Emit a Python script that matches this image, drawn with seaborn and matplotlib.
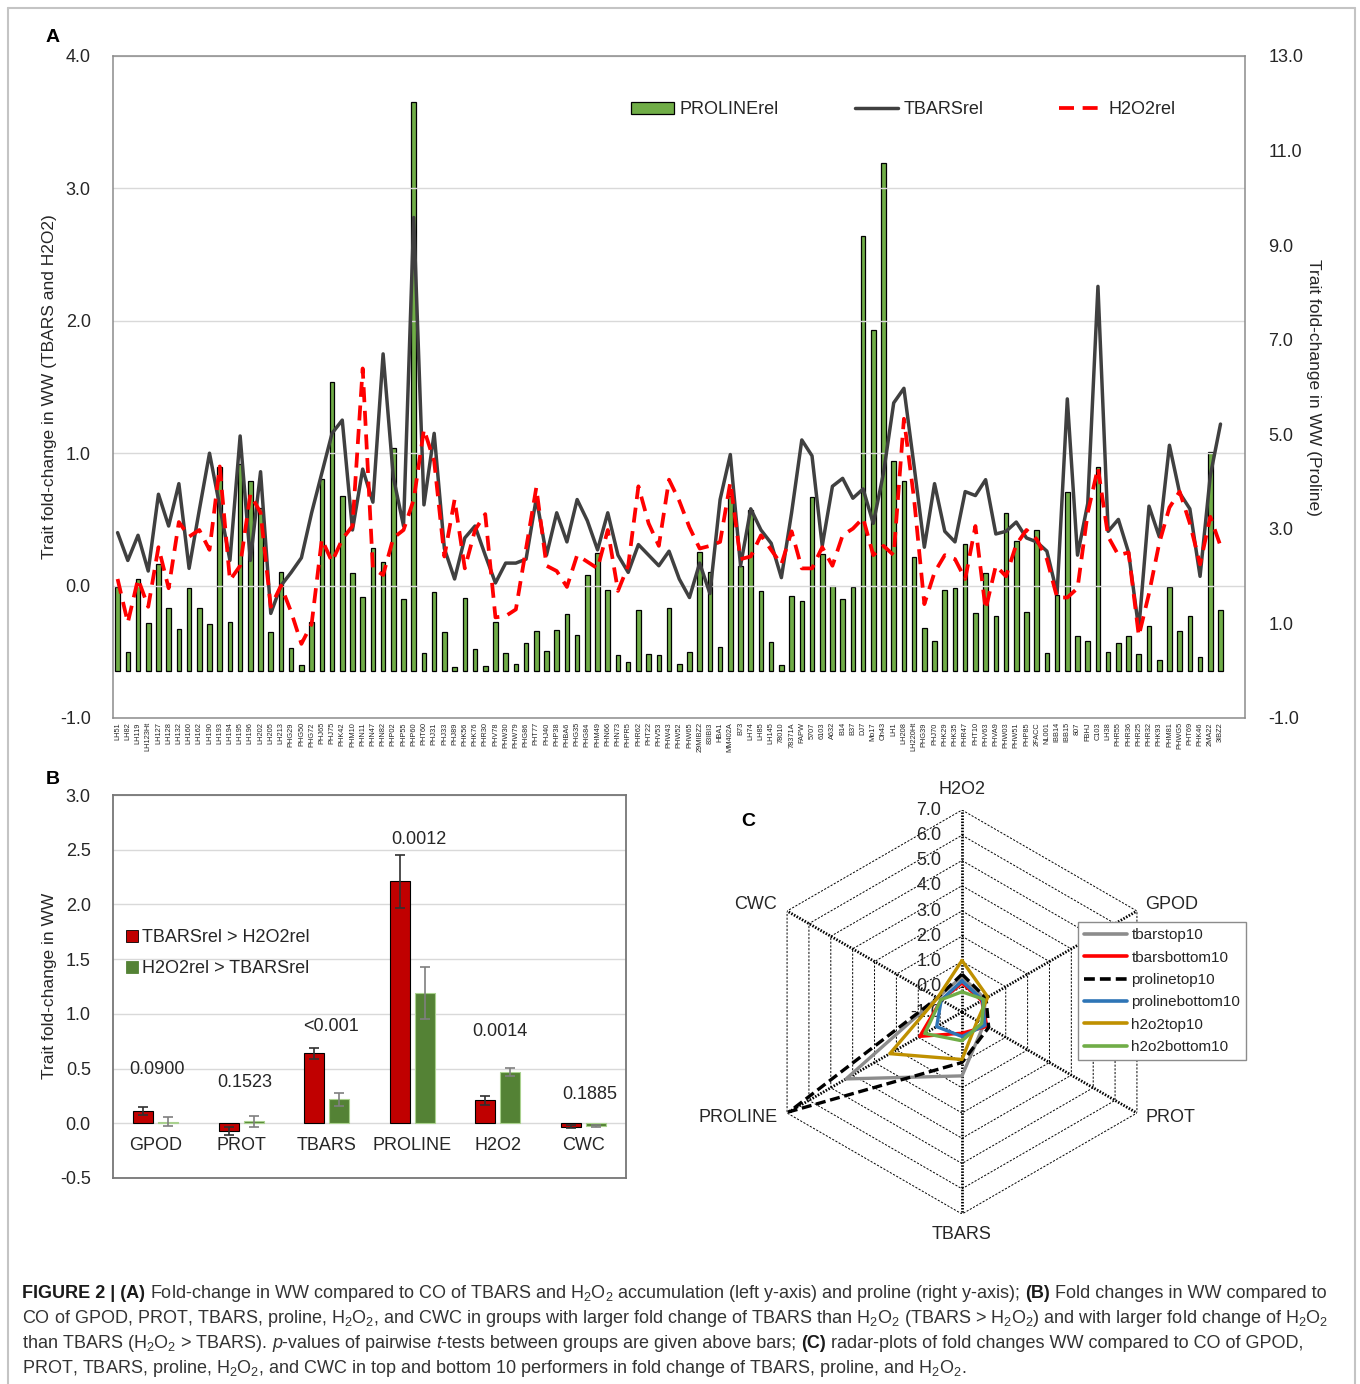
import numpy as np
import pandas as pd
import matplotlib
matplotlib.use("Agg")
import matplotlib.pyplot as plt
import seaborn as sns
from matplotlib.lines import Line2D
from matplotlib.patches import Patch
from matplotlib.ticker import FormatStrFormatter

# ---------------- data ----------------
genotypes = ["LH51", "LH82", "LH119", "LH123Ht", "LH127", "LH128", "LH132", "LH160", "LH162", "LH190",
             "LH193", "LH194", "LH195", "LH196", "LH202", "LH205", "LH213", "PHG29", "PHG50", "PHG72",
             "PHJ65", "PHJ75", "PHK42", "PHM10", "PHN11", "PHN47", "PHN82", "PHP02", "PHP55", "PHP60",
             "PHT60", "PHJ31", "PHJ33", "PHJ89", "PHK56", "PHK76", "PHR30", "PHV78", "PHW30", "PHW79",
             "PHG86", "PHT77", "PHJ40", "PHP38", "PHBA6", "PHG35", "PHG84", "PHM49", "PHN66", "PHN73",
             "PHPR5", "PHR62", "PHT22", "PHV53", "PHW43", "PHW52", "PHW65", "29MIBZ2", "83IBI3", "HBA1",
             "MM402A", "B73", "LH74", "LH85", "LH145", "78010", "78371A", "FAPW", "5707", "6103",
             "A632", "B14", "B37", "DJ7", "Mo17", "Oh43", "LH1", "LH208", "LH220Ht", "PHG39",
             "PHJ70", "PHK29", "PHK35", "PHR47", "PHT10", "PHV63", "PHVA9", "PHW03", "PHW51", "PHP85",
             "2FACC", "NL001", "IBB14", "IBB15", "807", "FBHJ", "C103", "LH38", "PHR55", "PHR36",
             "PHR25", "PHR32", "PHK93", "PHM81", "PHWG5", "PHT69", "PHK46", "2MA22", "3IBZ2"]

proline_rel = [1.76, 0.39, 1.94, 1.01, 2.26, 1.32, 0.89, 1.75, 1.32, 0.99,
               4.31, 1.02, 4.37, 4.02, 3.44, 0.81, 2.08, 0.49, 0.13, 1.03,
               4.05, 6.10, 3.70, 2.06, 1.56, 2.59, 2.30, 4.72, 1.51, 12.03,
               0.37, 1.66, 0.82, 0.08, 1.54, 0.45, 0.10, 1.02, 0.37, 0.15,
               0.58, 0.84, 0.41, 0.86, 1.20, 0.75, 2.03, 2.50, 1.71, 0.34,
               0.18, 1.28, 0.36, 0.34, 1.32, 0.14, 0.39, 2.52, 2.09, 0.50,
               3.69, 2.21, 3.40, 1.69, 0.60, 0.13, 1.57, 1.48, 3.68, 2.47,
               1.79, 1.52, 1.76, 9.20, 7.21, 10.74, 4.44, 4.02, 2.41, 0.90,
               0.62, 1.70, 1.75, 2.67, 1.22, 2.07, 1.16, 3.34, 2.74, 1.25,
               2.97, 0.37, 1.60, 3.79, 0.73, 0.63, 4.30, 0.39, 0.58, 0.74,
               0.35, 0.95, 0.23, 1.78, 0.85, 1.15, 0.29, 4.62, 1.29]

tbars_rel = [0.40, 0.19, 0.38, 0.11, 0.69, 0.45, 0.77, 0.13, 0.57, 1.00,
             0.60, 0.19, 1.13, 0.19, 0.86, -0.21, 0.00, 0.10, 0.21, 0.55,
             0.85, 1.15, 1.25, 0.42, 0.88, 0.63, 1.75, 0.82, 0.45, 2.78,
             0.61, 1.15, 0.28, 0.05, 0.36, 0.45, 0.23, 0.02, 0.17, 0.17,
             0.20, 0.66, 0.23, 0.55, 0.33, 0.65, 0.49, 0.27, 0.55, 0.23,
             0.10, 0.31, 0.23, 0.15, 0.26, 0.05, -0.09, 0.17, -0.06, 0.65,
             0.99, 0.15, 0.58, 0.42, 0.32, 0.06, 0.55, 1.10, 0.98, 0.30,
             0.75, 0.81, 0.66, 0.73, 0.47, 0.85, 1.38, 1.49, 0.90, 0.29,
             0.77, 0.41, 0.33, 0.71, 0.68, 0.80, 0.39, 0.41, 0.48, 0.36,
             0.33, 0.26, -0.06, 1.41, 0.23, 0.62, 2.26, 0.41, 0.50, 0.25,
             -0.33, 0.60, 0.37, 1.06, 0.70, 0.58, 0.07, 0.83, 1.22]

h2o2_rel = [0.05, -0.28, 0.05, -0.16, 0.29, -0.02, 0.48, 0.37, 0.42, 0.27,
            0.90, 0.04, 0.15, 0.69, 0.55, -0.16, 0.00, -0.20, -0.44, -0.29,
            0.35, 0.18, 0.35, 0.45, 1.64, 0.13, 0.08, 0.36, 0.42, 0.65,
            1.18, 0.94, 0.22, 0.65, 0.13, 0.42, 0.54, -0.24, -0.23, -0.18,
            0.28, 0.74, 0.15, 0.11, -0.01, 0.23, 0.18, 0.13, 0.42, -0.04,
            0.15, 0.75, 0.47, 0.30, 0.80, 0.64, 0.44, 0.28, 0.30, 0.33,
            0.78, 0.20, 0.22, 0.38, 0.27, 0.16, 0.41, 0.13, 0.13, 0.29,
            0.15, 0.38, 0.43, 0.51, 0.23, 0.30, 0.23, 1.26, 0.65, -0.14,
            0.10, 0.23, 0.20, 0.05, 0.45, -0.18, 0.15, 0.07, 0.31, 0.42,
            0.35, 0.20, -0.09, -0.09, -0.02, 0.55, 0.89, 0.37, 0.23, 0.25,
            -0.38, -0.06, 0.32, 0.59, 0.71, 0.47, 0.16, 0.52, 0.30]

traits_b = ["GPOD", "PROT", "TBARS", "PROLINE", "H2O2", "CWC"]
groups_b = ["TBARSrel > H2O2rel", "H2O2rel > TBARSrel"]
tbars_gt_mean = [0.11, -0.07, 0.64, 2.21, 0.21, -0.03]
tbars_gt_err = [0.035, 0.04, 0.05, 0.24, 0.04, 0.01]
h2o2_gt_mean = [0.015, 0.02, 0.22, 1.19, 0.47, -0.025]
h2o2_gt_err = [0.04, 0.05, 0.06, 0.24, 0.035, 0.01]
pvalues = ["0.0900", "0.1523", "<0.001", "0.0012", "0.0014", "0.1885"]

radar_traits = ["H2O2", "GPOD", "PROT", "TBARS", "PROLINE", "CWC"]
radar_names = ["tbarstop10", "tbarsbottom10", "prolinetop10", "prolinebottom10", "h2o2top10", "h2o2bottom10"]
tbarstop10 = [0.40, 0.05, 0.00, 1.53, 4.30, 0.12]
tbarsbottom10 = [0.15, -0.10, 0.14, -0.16, 0.93, -0.05]
prolinetop10 = [0.50, 0.10, 0.22, 1.00, 6.90, 0.12]
prolinebottom10 = [0.23, -0.06, 0.05, -0.03, 0.16, -0.05]
h2o2top10 = [1.04, 0.18, -0.30, 0.88, 2.30, 0.12]
h2o2bottom10 = [-0.20, 0.00, -0.10, 0.14, 0.70, -0.03]

# ---------------- style ----------------
sns.set_theme(style="white")
plt.rcParams["font.family"] = ["Liberation Sans", "DejaVu Sans"]
plt.rcParams["mathtext.fontset"] = "custom"
plt.rcParams["mathtext.rm"] = "Liberation Sans"
plt.rcParams["mathtext.it"] = "Liberation Sans:italic"
plt.rcParams["mathtext.bf"] = "Liberation Sans:bold"

W, H = 1360, 1384
fig = plt.figure(figsize=(W / 100, H / 100), dpi=100)
fig.patch.set_facecolor("white")


def fx(px):
    return px / W


def fy(py):
    return 1 - py / H


TXT = "#262626"
FRAME = "#8c8c8c"

# ---------------- panel A ----------------
axA = fig.add_axes([fx(113), fy(718), (1245 - 113) / W, (718 - 56) / H])
axA2 = axA.twinx()
n = len(genotypes)
dfA = pd.DataFrame({"genotype": genotypes, "pos": np.arange(n), "proline": proline_rel,
                    "tbars": tbars_rel, "h2o2": h2o2_rel})
sns.barplot(data=dfA, x="genotype", y="proline", order=genotypes, ax=axA2, color="#70AD47",
            saturation=1, width=0.45, edgecolor="black", linewidth=0.9)
sns.lineplot(data=dfA, x="pos", y="tbars", ax=axA, color="#404040", lw=2.5, sort=False)
sns.lineplot(data=dfA, x="pos", y="h2o2", ax=axA, color="#FF0000", lw=2.7,
             linestyle=(0, (4, 2.3)), sort=False)
axA.set_zorder(axA2.get_zorder() + 1)
axA.patch.set_visible(False)

axA.set_xlim(-0.45, n - 1 + 2.4)
axA.set_xticks(np.arange(n))
axA.set_xticklabels(genotypes, rotation=90, fontsize=5.3, color=TXT)
axA.tick_params(axis="x", length=0, pad=3)
axA.set_ylim(-1, 4)
axA.set_yticks(np.arange(-1, 4.01, 1))
axA.yaxis.set_major_formatter(FormatStrFormatter("%.1f"))
axA.tick_params(axis="y", length=0, pad=16, labelsize=13, labelcolor=TXT)
axA.yaxis.grid(True, color="#d9d9d9", lw=1)
axA.set_xlabel("")
axA.set_ylabel("")
axA2.set_ylim(-1, 13)
axA2.set_yticks(np.arange(-1, 13.01, 2))
axA2.yaxis.set_major_formatter(FormatStrFormatter("%.1f"))
axA2.tick_params(axis="y", length=0, pad=17, labelsize=13, labelcolor=TXT)
axA2.set_xlabel("")
axA2.set_ylabel("")
for s in axA.spines.values():
    s.set_color(FRAME)
    s.set_linewidth(1.1)
for s in axA2.spines.values():
    s.set_visible(False)

fig.text(fx(50), fy(387), "Trait fold-change in WW (TBARS and H2O2)", rotation=90,
         ha="center", va="center", fontsize=12.5, color=TXT)
fig.text(fx(1313), fy(387), "Trait fold-change in WW (Proline)", rotation=270,
         ha="center", va="center", fontsize=12.5, color=TXT)

legA = [Patch(facecolor="#70AD47", edgecolor="black", linewidth=0.9),
        Line2D([0], [0], color="#404040", lw=2.5),
        Line2D([0], [0], color="#FF0000", lw=2.7, linestyle=(0, (4, 2.3)))]
fig.legend(legA, ["PROLINErel", "TBARSrel", "H2O2rel"], loc="center",
           bbox_to_anchor=(fx(903), fy(110)), ncol=3, frameon=False, fontsize=13,
           handlelength=2.4, handleheight=0.6, handletextpad=0.3, columnspacing=4.2)

# ---------------- panel B ----------------
axB = fig.add_axes([fx(113), fy(1178), (626 - 113) / W, (1178 - 795) / H])
dfB = pd.DataFrame({"trait": traits_b * 2,
                    "group": [groups_b[0]] * 6 + [groups_b[1]] * 6,
                    "mean": tbars_gt_mean + h2o2_gt_mean,
                    "err": tbars_gt_err + h2o2_gt_err})
colB = {groups_b[0]: "#C00000", groups_b[1]: "#548235"}
sns.barplot(data=dfB, x="trait", y="mean", hue="group", order=traits_b, hue_order=groups_b,
            palette=colB, saturation=1, width=0.58, gap=0.2, errorbar=None, legend=False, ax=axB,
            zorder=2)
for p in axB.patches:
    fc = matplotlib.colors.to_hex(p.get_facecolor())
    if fc.lower() == "#c00000":
        p.set_edgecolor("black")
        p.set_linewidth(0.8)
    else:
        p.set_edgecolor("#a9d18e")
        p.set_linewidth(0.8)
for gi, g in enumerate(groups_b):
    sub = dfB[dfB.group == g].reset_index(drop=True)
    xs = np.arange(len(traits_b)) + (-0.145 if gi == 0 else 0.145)
    axB.errorbar(xs, sub["mean"], yerr=sub["err"], fmt="none",
                 ecolor="#303030" if gi == 0 else "#7f7f7f", elinewidth=1.2, capsize=3.5,
                 capthick=1.2, zorder=3)
axB.set_xlim(-0.5, 5.5)
axB.set_ylim(-0.5, 3.0)
axB.set_yticks(np.arange(-0.5, 3.01, 0.5))
axB.yaxis.set_major_formatter(FormatStrFormatter("%.1f"))
axB.tick_params(axis="y", length=0, pad=16, labelsize=13, labelcolor=TXT)
axB.set_xticks([])
axB.set_xlabel("")
axB.set_ylabel("")
axB.yaxis.grid(True, color="#d9d9d9", lw=1)
axB.set_axisbelow(True)
for s in axB.spines.values():
    s.set_color("#767676")
    s.set_linewidth(1.3)
for i, t in enumerate(traits_b):
    axB.text(i, -0.2, t, ha="center", va="center", fontsize=13, color=TXT)
pval_y = [0.49, 0.37, 0.88, 2.59, 0.84, 0.26]
pval_dx = [0.02, 0.04, 0.05, 0.08, 0.03, 0.08]
for i, pv in enumerate(pvalues):
    axB.text(i + pval_dx[i], pval_y[i], pv, ha="center", va="center", fontsize=13, color=TXT)
fig.text(fx(50), fy(986), "Trait fold-change in WW", rotation=90, ha="center", va="center",
         fontsize=12.5, color=TXT)
legB = [Patch(facecolor="#C00000", edgecolor="black", linewidth=0.6),
        Patch(facecolor="#548235", edgecolor="#548235", linewidth=0.6)]
fig.legend(legB, groups_b, loc="upper left", bbox_to_anchor=(fx(126), fy(929)), frameon=False,
           fontsize=13, handlelength=0.65, handleheight=0.65, handletextpad=0.25,
           labelspacing=0.78, borderpad=0, borderaxespad=0)

# ---------------- panel C (radar) ----------------
cx, cy, R = 962, 1012, 202
axC = fig.add_axes([fx(cx - R), fy(cy + R), 2 * R / W, 2 * R / H], projection="polar")
axC.set_theta_zero_location("N")
axC.set_theta_direction(-1)
axC.set_ylim(-1, 7)
axC.set_axis_off()
theta = np.deg2rad(np.arange(6) * 60.0)
theta_c = np.append(theta, 2 * np.pi)
for r in range(0, 8):
    axC.plot(theta_c, [r] * 7, color="black", lw=0.7, linestyle=(0, (2.2, 1.6)), zorder=1)
for a in theta:
    axC.plot([a, a], [-1, 7], color="black", lw=2.0, linestyle=(0, (0.55, 0.55)), zorder=1)
for r in range(-1, 8):
    axC.annotate(f"{r:.1f}", xy=(0, r), xytext=(-15, 0), textcoords="offset points",
                 ha="right", va="center", fontsize=13, color=TXT, annotation_clip=False)
lab_off = {"H2O2": ((0, 15), "center"), "GPOD": ((6, 5), "left"), "PROT": ((6, -3), "left"),
           "TBARS": ((0, -15), "center"), "PROLINE": ((-7, -3), "right"), "CWC": ((-7, 5), "right")}
for a, t in zip(theta, radar_traits):
    off, ha = lab_off[t]
    axC.annotate(t, xy=(a, 7), xytext=off, textcoords="offset points", ha=ha, va="center",
                 fontsize=13, color=TXT, annotation_clip=False)

radar_vals = [tbarstop10, tbarsbottom10, prolinetop10, prolinebottom10, h2o2top10, h2o2bottom10]
radar_cols = ["#8c8c8c", "#FF0000", "black", "#2E75B6", "#BF9000", "#70AD47"]
radar_ls = ["-", "-", (0, (3, 1.4)), "-", "-", "-"]
for name, vals, col, ls in zip(radar_names, radar_vals, radar_cols, radar_ls):
    dfr = pd.DataFrame({"theta": theta_c, "value": list(vals) + [vals[0]]})
    sns.lineplot(data=dfr, x="theta", y="value", ax=axC, color=col, lw=2.4, linestyle=ls,
                 sort=False, zorder=3)
axC.set_xlabel("")
axC.set_ylabel("")
legC = [Line2D([0], [0], color=c, lw=2.6, linestyle=l) for c, l in zip(radar_cols, radar_ls)]
fig.legend(legC, radar_names, loc="upper left", bbox_to_anchor=(fx(1078), fy(922)),
           frameon=True, fancybox=False, edgecolor="#8c8c8c", framealpha=1, fontsize=11,
           handlelength=2.8, handletextpad=0.3, labelspacing=0.55, borderpad=0.4,
           borderaxespad=0)

# panel letters
for lt, (px, py) in {"A": (53, 37), "B": (53, 779), "C": (748, 822)}.items():
    fig.text(fx(px), fy(py), lt, ha="center", va="center", fontsize=14, fontweight="bold",
             color="black")

# outer frame
for xs_, ys_ in [([8, 8], [8, 1384]), ([8, 1355], [8, 8]), ([1355, 1355], [8, 1384])]:
    fig.add_artist(Line2D([fx(v) for v in xs_], [fy(v) for v in ys_],
                          transform=fig.transFigure, color="#c4c4c4", lw=1.5))

# ---------------- caption ----------------
renderer = fig.canvas.get_renderer()
N, B, I = {}, {"fontweight": "bold"}, {"fontstyle": "italic"}
H2 = "H$_2$O$_2$"
cap_lines = [
    [("FIGURE 2 | (A)", B),
     (" Fold-change in WW compared to CO of TBARS and " + H2 +
      " accumulation (left y-axis) and proline (right y-axis); ", N),
     ("(B)", B), (" Fold changes in WW compared to", N)],
    [("CO of GPOD, PROT, TBARS, proline, " + H2 + ", and CWC in groups with larger fold change of TBARS than "
      + H2 + " (TBARS > " + H2 + ") and with larger fold change of " + H2, N)],
    [("than TBARS (" + H2 + " > TBARS). ", N), ("p", I), ("-values of pairwise ", N), ("t", I),
     ("-tests between groups are given above bars; ", N), ("(C)", B),
     (" radar-plots of fold changes WW compared to CO of GPOD,", N)],
    [("PROT, TBARS, proline, " + H2 + ", and CWC in top and bottom 10 performers in fold change of TBARS, proline, and "
      + H2 + ".", N)],
]


def measure(s, fs, kw):
    t = fig.text(0, 0, s, fontsize=fs, **kw)
    w = t.get_window_extent(renderer).width
    t.remove()
    return w


def line_width(runs, fs):
    sp = measure("a a", fs, N) - measure("aa", fs, N)
    tot = 0
    for s, kw in runs:
        core = s.strip(" ")
        lead = len(s) - len(s.lstrip(" "))
        trail = len(s) - len(s.rstrip(" "))
        tot += lead * sp + measure(core, fs, kw) + trail * sp
    return tot


fs0 = 12
cap_fs = fs0 * 1306 / line_width(cap_lines[0], fs0)
sp = measure("a a", cap_fs, N) - measure("aa", cap_fs, N)
for li, runs in enumerate(cap_lines):
    xpx = 22
    ypx = 1298 + li * 25
    for s, kw in runs:
        core = s.strip(" ")
        lead = len(s) - len(s.lstrip(" "))
        trail = len(s) - len(s.rstrip(" "))
        xpx += lead * sp
        col = "#1a1a1a" if kw is B else "#333333"
        fig.text(fx(xpx), fy(ypx), core, fontsize=cap_fs, ha="left", va="baseline", color=col, **kw)
        xpx += measure(core, cap_fs, kw) + trail * sp

fig.savefig("out.png", dpi=100)
